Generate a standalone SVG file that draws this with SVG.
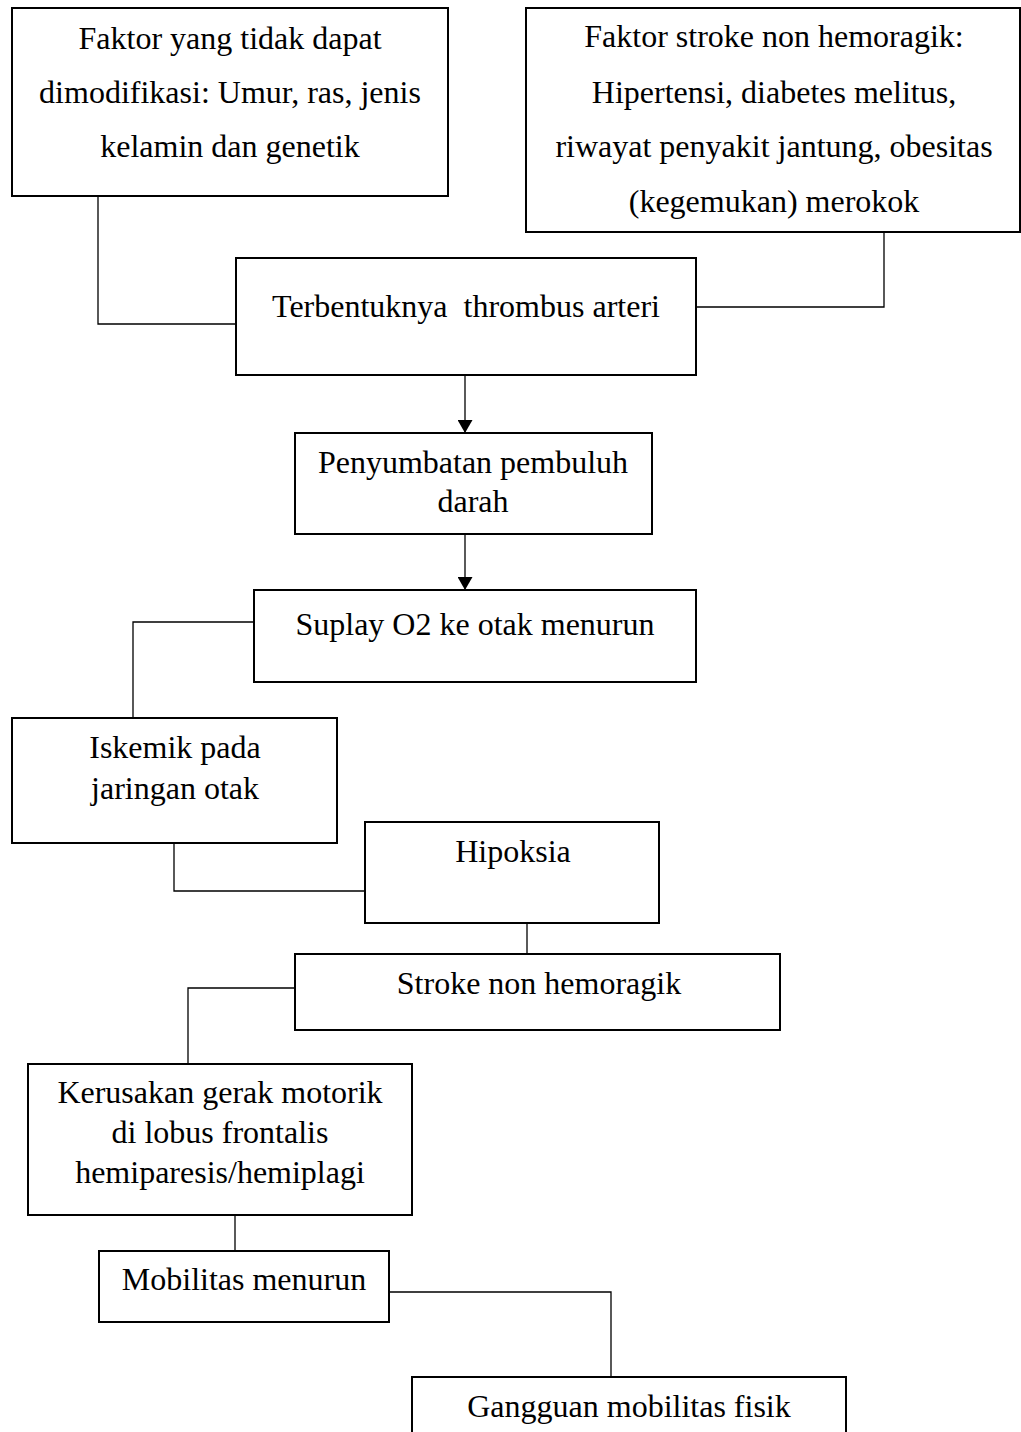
<svg xmlns="http://www.w3.org/2000/svg" width="1021" height="1432" viewBox="0 0 1021 1432">
<style>
.box{fill:#fff;stroke:#000;stroke-width:2}
.t{font-family:"Liberation Serif","Times New Roman",serif;font-size:32px;fill:#000;text-anchor:middle;white-space:pre}
.c{fill:none;stroke:#000;stroke-width:1.3}
</style>
<defs>
<marker id="ah" viewBox="0 0 13 15" refX="13" refY="7.5" markerWidth="13" markerHeight="15" markerUnits="userSpaceOnUse" orient="auto">
<path d="M0,0 L13,7.5 L0,15 Z" fill="#000"/>
</marker>
</defs>
<rect width="1021" height="1432" fill="#fff"/>
<g id="connectors">
<polyline class="c" points="98,196 98,324 236,324"/>
<polyline class="c" points="884,232 884,307 696,307"/>
<line class="c" x1="465" y1="375" x2="465" y2="433" marker-end="url(#ah)"/>
<line class="c" x1="465" y1="534" x2="465" y2="590" marker-end="url(#ah)"/>
<polyline class="c" points="254,622 133,622 133,718"/>
<polyline class="c" points="174,843 174,891 365,891"/>
<line class="c" x1="527" y1="923" x2="527" y2="954"/>
<polyline class="c" points="295,988 188,988 188,1064"/>
<line class="c" x1="235" y1="1215" x2="235" y2="1251"/>
<polyline class="c" points="389,1292 611,1292 611,1377"/>
</g>
<g id="n1"><rect class="box" x="12" y="8" width="436" height="188"/>
<text class="t" x="230" y="49">Faktor yang tidak dapat</text>
<text class="t" x="230" y="103">dimodifikasi: Umur, ras, jenis</text>
<text class="t" x="230" y="157">kelamin dan genetik</text></g>
<g id="n2"><rect class="box" x="526" y="8" width="494" height="224"/>
<text class="t" x="774" y="47">Faktor stroke non hemoragik:</text>
<text class="t" x="774" y="103">Hipertensi, diabetes melitus,</text>
<text class="t" x="774" y="157">riwayat penyakit jantung, obesitas</text>
<text class="t" x="774" y="212">(kegemukan) merokok</text></g>
<g id="n3"><rect class="box" x="236" y="258" width="460" height="117"/>
<text class="t" x="466" y="317">Terbentuknya  thrombus arteri</text></g>
<g id="n4"><rect class="box" x="295" y="433" width="357" height="101"/>
<text class="t" x="473" y="473">Penyumbatan pembuluh</text>
<text class="t" x="473" y="512">darah</text></g>
<g id="n5"><rect class="box" x="254" y="590" width="442" height="92"/>
<text class="t" x="475" y="635">Suplay O2 ke otak menurun</text></g>
<g id="n6"><rect class="box" x="12" y="718" width="325" height="125"/>
<text class="t" x="175" y="758">Iskemik pada</text>
<text class="t" x="175" y="799">jaringan otak</text></g>
<g id="n7"><rect class="box" x="365" y="822" width="294" height="101"/>
<text class="t" x="513" y="862">Hipoksia</text></g>
<g id="n8"><rect class="box" x="295" y="954" width="485" height="76"/>
<text class="t" x="539" y="994">Stroke non hemoragik</text></g>
<g id="n9"><rect class="box" x="28" y="1064" width="384" height="151"/>
<text class="t" x="220" y="1103">Kerusakan gerak motorik</text>
<text class="t" x="220" y="1143">di lobus frontalis</text>
<text class="t" x="220" y="1183">hemiparesis/hemiplagi</text></g>
<g id="n10"><rect class="box" x="99" y="1251" width="290" height="71"/>
<text class="t" x="244" y="1290">Mobilitas menurun</text></g>
<g id="n11"><rect class="box" x="412" y="1377" width="434" height="70"/>
<text class="t" x="629" y="1417">Gangguan mobilitas fisik</text></g>
</svg>
